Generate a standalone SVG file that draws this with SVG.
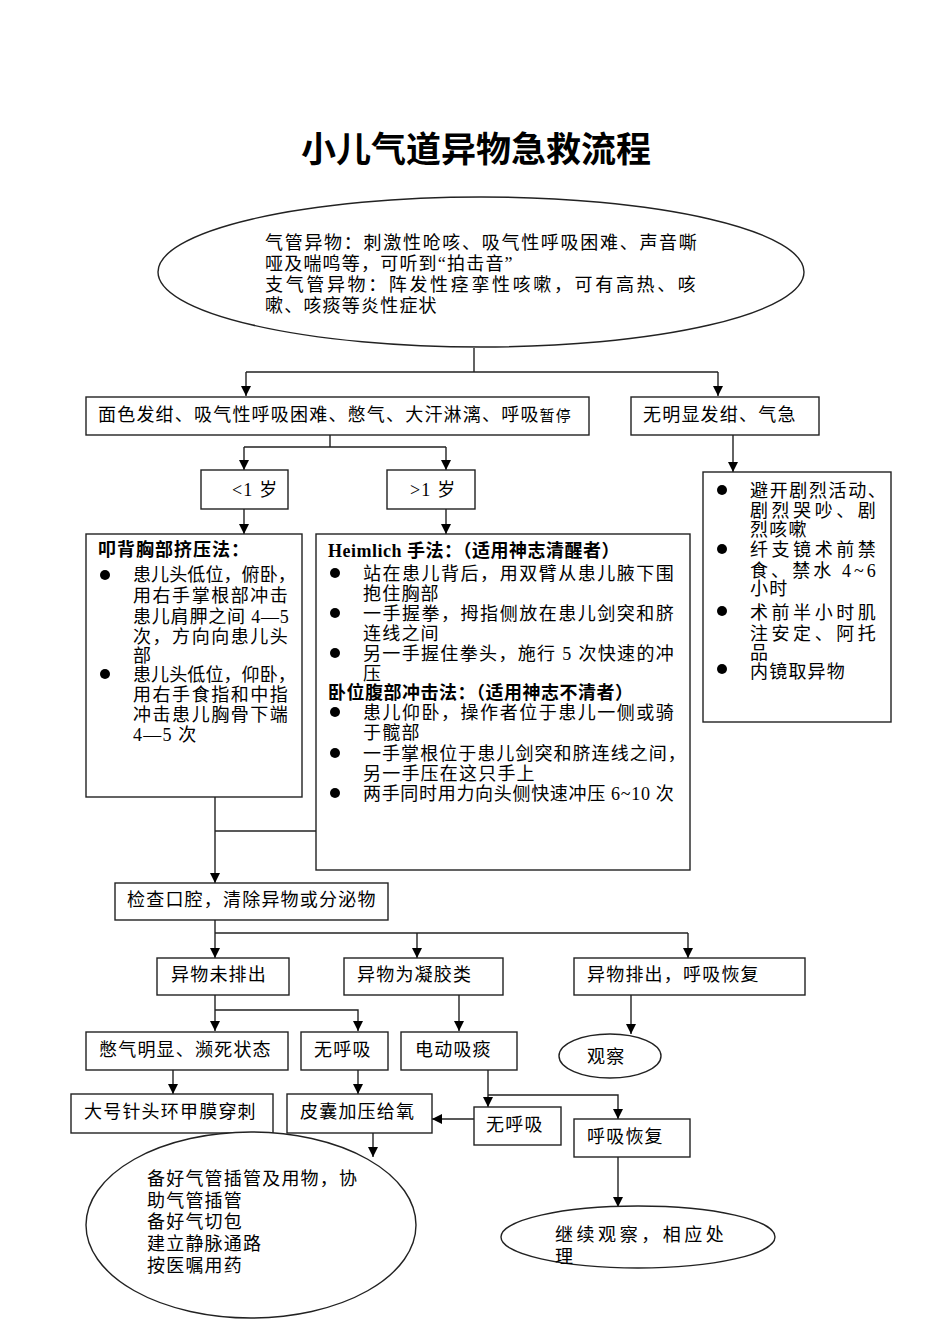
<svg xmlns="http://www.w3.org/2000/svg" width="950" height="1344" viewBox="0 0 950 1344">
<style>
text{font-family:"Liberation Serif","Noto Sans CJK SC",serif;font-size:18px;fill:#000;letter-spacing:1.2px}
.t{font-size:35px;font-weight:bold;letter-spacing:0}
.b{font-weight:bold}
.s{fill:#fff;stroke:#222;stroke-width:1.4}
.c{fill:none;stroke:#222;stroke-width:1.4}
.a{marker-end:url(#ar)}
</style>
<defs>
<marker id="ar" markerUnits="userSpaceOnUse" markerWidth="10" markerHeight="11" refX="10" refY="5" orient="auto">
<path d="M0,0 L10,5 L0,10 z" fill="#000"/>
</marker>
</defs>
<rect width="950" height="1344" fill="#fff"/>
<text class="t" x="476" y="162" text-anchor="middle">小儿气道异物急救流程</text>

<g id="connectors">
<path class="c" d="M474,348 V372 M246,372 H718"/>
<path class="c a" d="M246,372 V396"/>
<path class="c a" d="M718,372 V396"/>
<path class="c" d="M330,435 V447 M244,447 H446"/>
<path class="c a" d="M244,447 V470"/>
<path class="c a" d="M446,447 V470"/>
<path class="c a" d="M733,435 V472"/>
<path class="c a" d="M244,509 V534"/>
<path class="c a" d="M446,509 V534"/>
<path class="c" d="M215,831 H316"/>
<path class="c a" d="M215,797 V883"/>
<path class="c" d="M215,933 H688"/>
<path class="c a" d="M215,920 V958"/>
<path class="c a" d="M417,933 V958"/>
<path class="c a" d="M688,933 V958"/>
<path class="c a" d="M215,995 V1031"/>
<path class="c a" d="M215,1010 H358 V1031"/>
<path class="c a" d="M459,995 V1031"/>
<path class="c a" d="M631,995 V1034"/>
<path class="c a" d="M173,1070 V1094"/>
<path class="c a" d="M358,1070 V1094"/>
<path class="c a" d="M488,1070 V1107"/>
<path class="c a" d="M488,1095 H618 V1119"/>
<path class="c a" d="M474,1119 H432"/>
<path class="c a" d="M373,1133 V1157"/>
<path class="c a" d="M618,1157 V1207"/>
</g>

<g id="n-top">
<ellipse class="s" cx="481" cy="272" rx="323" ry="75"/>
<text x="265" y="249" textLength="433">气管异物：刺激性呛咳、吸气性呼吸困难、声音嘶</text>
<text x="265" y="270">哑及喘鸣等，可听到“拍击音”</text>
<text x="265" y="291" textLength="432">支气管异物：阵发性痉挛性咳嗽，可有高热、咳</text>
<text x="265" y="312">嗽、咳痰等炎性症状</text>
</g>

<g id="n-severe">
<rect class="s" x="86" y="397" width="503" height="38"/>
<text x="98" y="421">面色发绀、吸气性呼吸困难、憋气、大汗淋漓、呼吸<tspan font-size="15">暂停</tspan></text>
</g>
<g id="n-mild">
<rect class="s" x="631" y="397" width="188" height="38"/>
<text x="643" y="421">无明显发绀、气急</text>
</g>
<g id="n-lt1">
<rect class="s" x="201" y="470" width="87" height="39"/>
<text x="232" y="496">&lt;1 岁</text>
</g>
<g id="n-gt1">
<rect class="s" x="387" y="470" width="88" height="39"/>
<text x="410" y="496">&gt;1 岁</text>
</g>

<g id="n-mild-care">
<rect class="s" x="703" y="472" width="188" height="250"/>
<circle cx="722" cy="490" r="5"/><circle cx="722" cy="549" r="5"/><circle cx="722" cy="611" r="5"/><circle cx="722" cy="669" r="5"/>
<text x="750" y="497" textLength="137">避开剧烈活动、</text>
<text x="750" y="517" textLength="127">剧烈哭吵、剧</text>
<text x="750" y="536">烈咳嗽</text>
<text x="750" y="556" textLength="127">纤支镜术前禁</text>
<text x="750" y="577" textLength="127">食、禁水 4~6</text>
<text x="750" y="595">小时</text>
<text x="750" y="619" textLength="127">术前半小时肌</text>
<text x="750" y="640" textLength="127">注安定、阿托</text>
<text x="750" y="659">品</text>
<text x="750" y="678">内镜取异物</text>
</g>

<g id="n-back">
<rect class="s" x="86" y="534" width="216" height="263"/>
<text class="b" x="98" y="556" style="letter-spacing:1px">叩背胸部挤压法：</text>
<circle cx="105" cy="575" r="5"/><circle cx="105" cy="674" r="5"/>
<text x="133" y="581" textLength="164">患儿头低位，俯卧，</text>
<text x="133" y="602" textLength="156">用右手掌根部冲击</text>
<text x="133" y="623" textLength="157">患儿肩胛之间 4—5</text>
<text x="133" y="643" textLength="156">次，方向向患儿头</text>
<text x="133" y="662">部</text>
<text x="133" y="681" textLength="164">患儿头低位，仰卧，</text>
<text x="133" y="701" textLength="156">用右手食指和中指</text>
<text x="133" y="721" textLength="156">冲击患儿胸骨下端</text>
<text x="133" y="741">4—5 次</text>
</g>

<g id="n-heimlich">
<rect class="s" x="316" y="534" width="374" height="336"/>
<text class="b" x="328" y="557" style="letter-spacing:0.5px">Heimlich 手法：（适用神志清醒者）</text>
<circle cx="335" cy="573" r="5"/><circle cx="335" cy="613" r="5"/><circle cx="335" cy="653" r="5"/>
<circle cx="335" cy="712" r="5"/><circle cx="335" cy="753" r="5"/><circle cx="335" cy="793" r="5"/>
<text x="363" y="580" textLength="312">站在患儿背后，用双臂从患儿腋下围</text>
<text x="363" y="600">抱住胸部</text>
<text x="363" y="620" textLength="312">一手握拳，拇指侧放在患儿剑突和脐</text>
<text x="363" y="640">连线之间</text>
<text x="363" y="660" textLength="312">另一手握住拳头，施行 5 次快速的冲</text>
<text x="363" y="680">压</text>
<text class="b" x="328" y="699" style="letter-spacing:0.5px">卧位腹部冲击法：（适用神志不清者）</text>
<text x="363" y="719" textLength="312">患儿仰卧，操作者位于患儿一侧或骑</text>
<text x="363" y="739">于髋部</text>
<text x="363" y="760" textLength="324">一手掌根位于患儿剑突和脐连线之间，</text>
<text x="363" y="780">另一手压在这只手上</text>
<text x="363" y="800" textLength="312">两手同时用力向头侧快速冲压 6~10 次</text>
</g>

<g id="n-check">
<rect class="s" x="115" y="883" width="273" height="37"/>
<text x="127" y="906">检查口腔，清除异物或分泌物</text>
</g>
<g id="n-notout">
<rect class="s" x="157" y="958" width="132" height="37"/>
<text x="171" y="981">异物未排出</text>
</g>
<g id="n-gel">
<rect class="s" x="344" y="958" width="159" height="37"/>
<text x="357" y="981">异物为凝胶类</text>
</g>
<g id="n-out">
<rect class="s" x="574" y="958" width="231" height="37"/>
<text x="587" y="981">异物排出，呼吸恢复</text>
</g>
<g id="n-dying">
<rect class="s" x="86" y="1032" width="202" height="38"/>
<text x="99" y="1056">憋气明显、濒死状态</text>
</g>
<g id="n-nobreath1">
<rect class="s" x="301" y="1032" width="87" height="38"/>
<text x="314" y="1056">无呼吸</text>
</g>
<g id="n-suction">
<rect class="s" x="401" y="1032" width="116" height="38"/>
<text x="415" y="1056">电动吸痰</text>
</g>
<g id="n-observe">
<ellipse class="s" cx="610" cy="1056" rx="51" ry="22"/>
<text x="587" y="1063">观察</text>
</g>
<g id="n-puncture">
<rect class="s" x="71" y="1094" width="202" height="39"/>
<text x="84" y="1118">大号针头环甲膜穿刺</text>
</g>
<g id="n-bag">
<rect class="s" x="287" y="1094" width="145" height="39"/>
<text x="300" y="1118">皮囊加压给氧</text>
</g>
<g id="n-nobreath2">
<rect class="s" x="474" y="1107" width="87" height="38"/>
<text x="486" y="1131">无呼吸</text>
</g>
<g id="n-recover">
<rect class="s" x="574" y="1119" width="116" height="38"/>
<text x="587" y="1143">呼吸恢复</text>
</g>
<g id="n-prepare">
<ellipse class="s" cx="251" cy="1225" rx="165" ry="93"/>
<text x="147" y="1185">备好气管插管及用物，协</text>
<text x="147" y="1207">助气管插管</text>
<text x="147" y="1228">备好气切包</text>
<text x="147" y="1250">建立静脉通路</text>
<text x="147" y="1272">按医嘱用药</text>
</g>
<g id="n-continue">
<ellipse class="s" cx="638" cy="1237" rx="137" ry="31"/>
<text x="555" y="1241" textLength="170">继续观察，相应处</text>
<text x="555" y="1263">理</text>
</g>
</svg>
